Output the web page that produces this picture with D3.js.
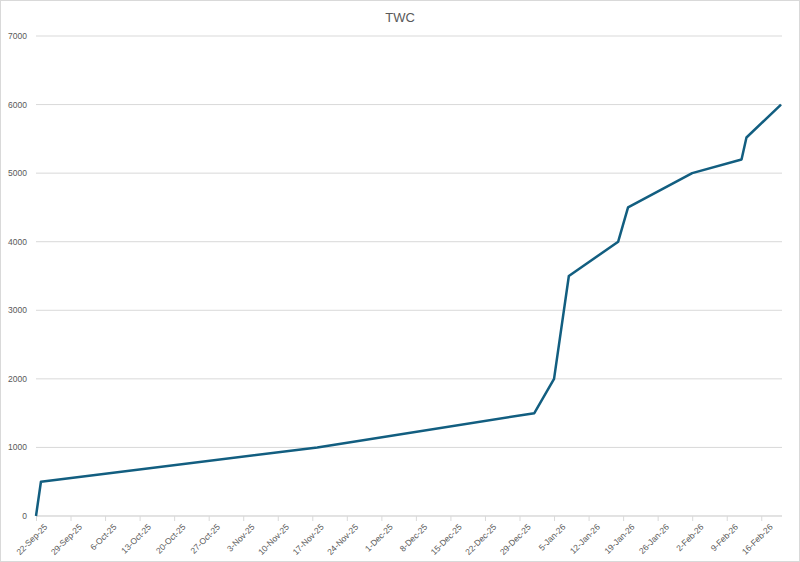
<!DOCTYPE html>
<html><head><meta charset="utf-8">
<script src="https://cdn.jsdelivr.net/npm/d3@7"></script>
<style>body{margin:0;background:#fff}svg{font-family:"Liberation Sans",Arial,sans-serif}</style>
</head><body><svg id="c" width="800" height="562"></svg>
<script>
const dates = ["2025-09-22","2025-09-23","2025-11-18","2026-01-01","2026-01-05","2026-01-08","2026-01-18","2026-01-20","2026-02-02","2026-02-12","2026-02-13","2026-02-20"];
const values = [0,500,1000,1500,2000,3500,4000,4500,5000,5200,5520,6000];
const yTicks = [0,1000,2000,3000,4000,5000,6000,7000];
const parse = d3.timeParse("%Y-%m-%d");
const data = dates.map((d,i)=>({d:parse(d),v:values[i]}));
const svg = d3.select("#c");
svg.append("rect").attr("x",0.5).attr("y",0.5).attr("width",799).attr("height",561).attr("fill","#fff").attr("stroke","#d9d9d9");
const x = d3.scaleTime().domain([parse("2025-09-22"),parse("2026-02-20")]).range([36,781]);
const y = d3.scaleLinear().domain([0,7000]).range([516,36]);
svg.append("text").attr("x",400).attr("y",22).attr("text-anchor","middle").attr("font-size",13).attr("fill","#595959").text("TWC");
const g = svg.append("g");
g.selectAll("line.grid").data(yTicks).join("line").attr("x1",36).attr("x2",782).attr("y1",d=>y(d)).attr("y2",d=>y(d)).attr("stroke","#d9d9d9").attr("stroke-width",1);
g.selectAll("text.yl").data(yTicks).join("text").attr("x",27).attr("y",d=>y(d)+3).attr("text-anchor","end").attr("font-size",8.5).attr("fill","#595959").text(d=>d);
const xt = d3.timeDay.range(parse("2025-09-22"),parse("2026-02-21"),7);
const ax = svg.append("g").attr("transform","translate(0,516)").call(d3.axisBottom(x).tickValues(xt).tickSize(5).tickFormat(d3.timeFormat("%-d-%b-%y")));
ax.select(".domain").attr("stroke","#d9d9d9").attr("d","M36,0H782");
ax.selectAll(".tick line").attr("stroke","#d9d9d9");
ax.selectAll("text").attr("font-size",8.5).attr("fill","#595959").attr("text-anchor","end").attr("transform","translate(4,4) rotate(-45)").attr("dy","0.3em").attr("dx","0");
svg.append("path").datum(data).attr("fill","none").attr("stroke","#125e80").attr("stroke-width",2.5).attr("stroke-linejoin","round")
 .attr("d",d3.line().x(d=>x(d.d)).y(d=>y(d.v)));
</script></body></html>
